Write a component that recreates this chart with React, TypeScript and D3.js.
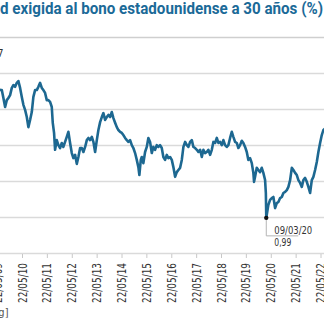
import React from "react";
import * as d3 from "d3";

// Decimal-year times
const times: number[] = [2009.365, 2009.486, 2009.554, 2009.618, 2009.687, 2009.755, 2009.819, 2009.888, 2009.956, 2010.020, 2010.089, 2010.157, 2010.221, 2010.290, 2010.358, 2010.422, 2010.491, 2010.559, 2010.623, 2010.692, 2010.760, 2010.824, 2010.893, 2010.961, 2011.025, 2011.094, 2011.162, 2011.226, 2011.295, 2011.363, 2011.427, 2011.496, 2011.564, 2011.604, 2011.656, 2011.697, 2011.765, 2011.829, 2011.898, 2011.966, 2012.030, 2012.099, 2012.167, 2012.231, 2012.300, 2012.368, 2012.432, 2012.501, 2012.569, 2012.633, 2012.702, 2012.770, 2012.834, 2012.903, 2012.971, 2013.035, 2013.104, 2013.172, 2013.236, 2013.305, 2013.373, 2013.437, 2013.506, 2013.574, 2013.638, 2013.707, 2013.775, 2013.839, 2013.908, 2013.976, 2014.040, 2014.109, 2014.177, 2014.241, 2014.310, 2014.378, 2014.442, 2014.511, 2014.579, 2014.643, 2014.712, 2014.780, 2014.844, 2014.913, 2014.981, 2015.045, 2015.085, 2015.142, 2015.182, 2015.246, 2015.315, 2015.383, 2015.447, 2015.516, 2015.584, 2015.648, 2015.717, 2015.785, 2015.849, 2015.918, 2015.986, 2016.050, 2016.119, 2016.187, 2016.251, 2016.320, 2016.388, 2016.452, 2016.521, 2016.589, 2016.653, 2016.722, 2016.790, 2016.854, 2016.923, 2016.991, 2017.055, 2017.124, 2017.192, 2017.256, 2017.325, 2017.393, 2017.457, 2017.526, 2017.594, 2017.658, 2017.727, 2017.795, 2017.859, 2017.928, 2017.996, 2018.060, 2018.129, 2018.197, 2018.261, 2018.330, 2018.398, 2018.462, 2018.531, 2018.599, 2018.663, 2018.732, 2018.800, 2018.864, 2018.933, 2019.001, 2019.065, 2019.134, 2019.202, 2019.266, 2019.335, 2019.403, 2019.467, 2019.536, 2019.604, 2019.668, 2019.696, 2019.737, 2019.805, 2019.869, 2019.938, 2020.006, 2020.070, 2020.139, 2020.170, 2020.187, 2020.271, 2020.340, 2020.408, 2020.472, 2020.541, 2020.609, 2020.673, 2020.742, 2020.810, 2020.874, 2020.943, 2021.011, 2021.075, 2021.144, 2021.212, 2021.276, 2021.345, 2021.413, 2021.477, 2021.546, 2021.614, 2021.678, 2021.747, 2021.815, 2021.879, 2021.948, 2022.016, 2022.080, 2022.149, 2022.217, 2022.281, 2022.350, 2022.418, 2022.482, 2022.591];

// 30-year US Treasury yield (%)
const yields: number[] = [4.60, 4.54, 4.54, 4.32, 4.07, 4.26, 4.32, 4.40, 4.60, 4.68, 4.63, 4.74, 4.79, 4.60, 4.35, 4.13, 3.99, 3.79, 3.51, 3.71, 3.93, 4.35, 4.54, 4.54, 4.63, 4.74, 4.60, 4.54, 4.46, 4.26, 4.26, 4.21, 4.07, 3.63, 3.35, 2.88, 3.15, 3.01, 2.93, 3.07, 2.96, 3.10, 3.24, 3.38, 3.07, 2.79, 2.65, 2.74, 2.49, 2.68, 2.93, 2.93, 2.82, 2.96, 3.15, 3.21, 3.15, 3.24, 3.10, 2.82, 3.15, 3.43, 3.65, 3.79, 3.90, 3.71, 3.79, 3.85, 3.79, 3.93, 3.76, 3.63, 3.51, 3.43, 3.38, 3.35, 3.29, 3.21, 3.15, 3.10, 3.15, 3.01, 2.93, 2.79, 2.60, 2.40, 2.18, 2.60, 2.68, 2.51, 2.82, 2.96, 3.21, 3.10, 2.79, 2.96, 2.88, 3.01, 2.96, 3.01, 2.93, 2.68, 2.60, 2.74, 2.65, 2.68, 2.60, 2.40, 2.13, 2.26, 2.32, 2.38, 2.60, 2.96, 3.10, 3.01, 2.96, 3.10, 3.15, 2.96, 2.93, 2.88, 2.82, 2.88, 2.68, 2.88, 2.79, 2.82, 2.88, 2.74, 2.88, 3.10, 3.07, 3.21, 3.07, 3.10, 3.01, 3.15, 3.01, 2.96, 3.01, 3.21, 3.38, 3.24, 3.10, 3.07, 2.93, 3.01, 3.13, 3.07, 2.96, 2.82, 2.60, 2.65, 2.51, 2.24, 1.99, 2.13, 2.38, 2.32, 2.26, 2.38, 2.24, 2.04, 1.68, 0.99, 1.35, 1.49, 1.54, 1.57, 1.26, 1.40, 1.43, 1.54, 1.57, 1.68, 1.71, 1.76, 1.85, 2.04, 2.38, 2.32, 2.24, 2.18, 2.04, 1.96, 1.85, 2.04, 2.10, 1.99, 1.85, 1.68, 2.04, 2.13, 2.32, 2.54, 2.82, 3.07, 3.29, 3.43, 3.49];

const yTicks: number[] = [0, 1, 2, 3, 4, 5, 6];
const tickYears: number[] = [2009, 2010, 2011, 2012, 2013, 2014, 2015, 2016, 2017, 2018, 2019, 2020, 2021, 2022];
const minDateLabel = "09/03/20";
const minValueLabel = "0,99";
const minTime = 2020.187;
const minValue = 0.99;

const title = "d exigida al bono estadounidense a 30 años (%)";
const topNote = "4,87";
const source = "[Fuente: Bloomberg]";

function decYearToDate(t: number): Date {
  const y = Math.floor(t);
  const start = Date.UTC(y, 0, 1);
  const end = Date.UTC(y + 1, 0, 1);
  return new Date(start + (t - y) * (end - start));
}

const W = 324;
const H = 324;
const condensed = "'Liberation Sans Narrow', 'DejaVu Sans Condensed', 'Roboto', sans-serif";

export default function App() {
  const x = d3
    .scaleUtc()
    .domain([new Date(Date.UTC(2010, 4, 22)), new Date(Date.UTC(2022, 4, 22))])
    .range([22.5, 321]);
  const y = d3.scaleLinear().domain([0, 6]).range([253.5, 37.5]);

  const n = Math.min(times.length, yields.length);
  const data = d3.range(n).map((i) => ({ d: decYearToDate(times[i]), v: yields[i] }));

  const line = d3
    .line<{ d: Date; v: number }>()
    .x((p) => x(p.d))
    .y((p) => y(p.v))
    .curve(d3.curveLinear);

  const mx = x(decYearToDate(minTime));
  const my = y(minValue);

  return (
    <svg
      width={W}
      height={H}
      style={{ position: "fixed", left: 0, top: 0, background: "#fff" }}
    >
      <rect x={0} y={0} width={W} height={H} fill="#fff" />
      <text
        x={0}
        y={13.5}
        fontFamily="'Roboto', 'Open Sans', sans-serif"
        fontWeight={700}
        fontSize={16}
        fill="#1b6a98"
        textLength={323}
        lengthAdjust="spacingAndGlyphs"
      >
        {title}
      </text>

      {yTicks.map((t) => (
        <line
          key={t}
          x1={0}
          x2={W}
          y1={y(t)}
          y2={y(t)}
          stroke={t === 6 ? "#cfcfcf" : "#dadada"}
          strokeWidth={1.6}
        />
      ))}

      <text x={3.5} y={57} textAnchor="end" fontFamily={condensed} fontSize={11} fill="#333">
        {topNote}
      </text>

      {tickYears.map((yr) => {
        const d = new Date(Date.UTC(yr, 4, 22));
        const tx = x(d);
        const label = "22/05/" + String(yr % 100).padStart(2, "0");
        return (
          <g key={yr}>
            <line x1={tx} x2={tx} y1={254} y2={258} stroke="#c8c8c8" strokeWidth={1} />
            <text
              transform={`translate(${tx},263) rotate(-90)`}
              textAnchor="end"
              dy="0.35em"
              fontFamily={condensed}
              fontSize={11.5}
              fill="#333"
              textLength={40}
              lengthAdjust="spacingAndGlyphs"
            >
              {label}
            </text>
          </g>
        );
      })}

      <path d={line(data) || ""} fill="none" stroke="#1d6891" strokeWidth={2.6} strokeLinejoin="round" />

      <path
        d={`M${mx},${my} V${my + 18} H${mx + 32}`}
        fill="none"
        stroke="#b5b5b5"
        strokeWidth={1}
      />
      <circle cx={mx} cy={my} r={2.2} fill="#111" />
      <text
        x={mx + 8}
        y={my + 16}
        fontFamily={condensed}
        fontSize={11}
        fill="#333"
        textLength={38}
        lengthAdjust="spacingAndGlyphs"
      >
        {minDateLabel}
      </text>
      <text
        x={mx + 8}
        y={my + 28}
        fontFamily={condensed}
        fontSize={11}
        fill="#333"
        textLength={17}
        lengthAdjust="spacingAndGlyphs"
      >
        {minValueLabel}
      </text>

      <text x={8.5} y={316} textAnchor="end" fontFamily={condensed} fontSize={11} fill="#555">
        {source}
      </text>
    </svg>
  );
}
